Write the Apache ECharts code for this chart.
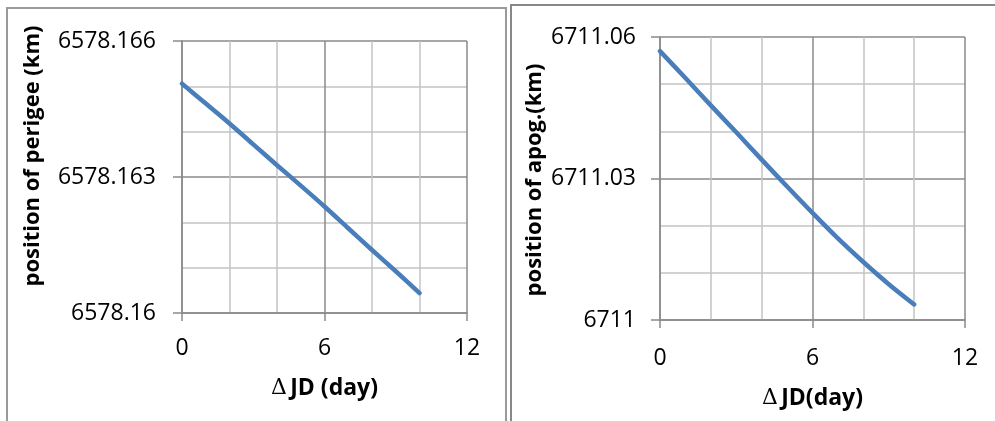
<!DOCTYPE html>
<html>
<head>
<meta charset="utf-8">
<script src="https://cdn.jsdelivr.net/npm/echarts@6/dist/echarts.min.js"></script>
<style>
  html, body { margin: 0; padding: 0; background: #fff; }
  #chart { width: 995px; height: 421px; }
</style>
</head>
<body>
<div id="chart"></div>
<script>
// Elapsed time since epoch (days)
const days = [0, 1, 2, 3, 4, 5, 6, 7, 8, 9, 10];
// Perigee position (km)
const perigee = [6578.16506, 6578.16462, 6578.16418, 6578.16372, 6578.16326, 6578.16281,
                 6578.16235, 6578.16187, 6578.16139, 6578.16092, 6578.16044];
// Apogee position (km)
const apogee = [6711.0570, 6711.0513, 6711.0455, 6711.0398, 6711.0340, 6711.0283,
                6711.0227, 6711.0173, 6711.0123, 6711.0076, 6711.0033];

// Axis ranges and tick steps
const xRange = { min: 0, max: 12, step: 6 };
const perigeeRange = { min: 6578.160, max: 6578.166, step: 0.003 };
const apogeeRange = { min: 6711.00, max: 6711.06, step: 0.03 };

const FONT = '"Open Sans", "Noto Sans", sans-serif';
const MAJOR = '#8a8a8a';
const MINOR = '#c3c3c3';
const LINE_BLUE = '#4a7ebb';

const pairs = (xs, ys) => xs.map((x, i) => [x, ys[i]]);

function xAxisFor(gridIndex, nameGap) {
  return {
    type: 'value', gridIndex,
    min: xRange.min, max: xRange.max, interval: xRange.step,
    name: '{d|\u0394} {b|JD' + (gridIndex === 0 ? ' ' : '') + '(day)}',
    nameLocation: 'middle', nameGap,
    nameTextStyle: {
      rich: {
        d: { fontFamily: '"DejaVu Serif", serif', fontSize: 22, color: '#000' },
        b: { fontFamily: FONT, fontSize: 23, fontWeight: 'bold', color: '#000' }
      }
    },
    axisLine: { show: true, onZero: false, lineStyle: { color: MAJOR, width: 1.5 } },
    axisTick: { show: true, inside: false, length: 8, lineStyle: { color: MAJOR, width: 1.5 } },
    minorTick: { show: false, splitNumber: 3 },
    axisLabel: { margin: gridIndex === 0 ? 24 : 27, fontFamily: FONT, fontSize: 23, color: '#000' },
    splitLine: { show: true, lineStyle: { color: MAJOR, width: 1.5 } },
    minorSplitLine: { show: true, lineStyle: { color: MINOR, width: 1.5 } }
  };
}

function yAxisFor(gridIndex, range, digits) {
  return {
    type: 'value', gridIndex,
    min: range.min, max: range.max, interval: range.step,
    axisLine: { show: true, onZero: false, lineStyle: { color: MAJOR, width: 1.5 } },
    axisTick: { show: true, inside: false, length: 9, lineStyle: { color: MAJOR, width: 1.5 } },
    minorTick: { show: false, splitNumber: 3 },
    axisLabel: {
      margin: gridIndex === 0 ? 26 : 24,
      fontFamily: FONT, fontSize: 23, color: '#000',
      formatter: v => String(Number(v.toFixed(digits)))
    },
    splitLine: { show: true, lineStyle: { color: MAJOR, width: 1.5 } },
    minorSplitLine: { show: true, lineStyle: { color: MINOR, width: 1.5 } }
  };
}

const chart = echarts.init(document.getElementById('chart'), null, { renderer: 'canvas' });

chart.setOption({
  animation: false,
  backgroundColor: '#fff',
  grid: [
    { left: 182, top: 41, width: 285, height: 272, show: false },
    { left: 660, top: 37, width: 305, height: 283, show: false }
  ],
  xAxis: [xAxisFor(0, 64), xAxisFor(1, 67)],
  yAxis: [yAxisFor(0, perigeeRange, 3), yAxisFor(1, apogeeRange, 2)],
  series: [
    {
      type: 'line', xAxisIndex: 0, yAxisIndex: 0,
      data: pairs(days, perigee),
      smooth: 0.3, showSymbol: false,
      lineStyle: { color: LINE_BLUE, width: 4.5, cap: 'round', join: 'round' }
    },
    {
      type: 'line', xAxisIndex: 1, yAxisIndex: 1,
      data: pairs(days, apogee),
      smooth: 0.3, showSymbol: false,
      lineStyle: { color: LINE_BLUE, width: 4.5, cap: 'round', join: 'round' }
    }
  ],
  graphic: [
    // panel frames
    { type: 'rect', shape: { x: 7, y: 8, width: 499, height: 430 },
      style: { fill: 'none', stroke: '#9a9a9a', lineWidth: 2 }, silent: true, z: -1 },
    { type: 'rect', shape: { x: 511, y: 5, width: 500, height: 430 },
      style: { fill: 'none', stroke: '#888888', lineWidth: 2 }, silent: true, z: -1 },
    // vertical axis titles
    { type: 'text', x: 33, y: 156, rotation: Math.PI / 2,
      style: { text: 'position of perigee (km)', fontFamily: FONT, fontSize: 22, fontWeight: 'bold',
               fill: '#000', align: 'center', verticalAlign: 'middle' } },
    { type: 'text', x: 535, y: 180, rotation: Math.PI / 2,
      style: { text: 'position of apog.(km)', fontFamily: FONT, fontSize: 22, fontWeight: 'bold',
               fill: '#000', align: 'center', verticalAlign: 'middle' } }
  ]
});
</script>
</body>
</html>
